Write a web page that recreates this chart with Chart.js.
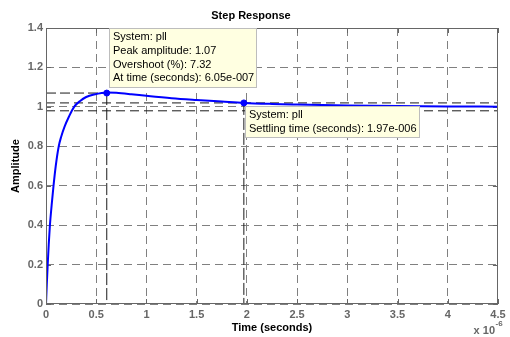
<!DOCTYPE html>
<html>
<head>
<meta charset="utf-8">
<script src="https://cdn.jsdelivr.net/npm/chart.js@4/dist/chart.umd.min.js"></script>
<style>
  html, body { margin: 0; padding: 0; background: #ffffff; }
  #wrap { width: 510px; height: 337px; position: relative; }
</style>
</head>
<body>
<div id="wrap"><canvas id="c" width="510" height="337"></canvas></div>
<script>
// ---- data (time in units of 1e-6 s) ----
const timeUs = [0, 0.008, 0.017, 0.027, 0.039, 0.056, 0.075, 0.097, 0.127, 0.152, 0.185, 0.228, 0.28, 0.34, 0.4, 0.48, 0.605, 0.7, 0.85, 1.0, 1.25, 1.5, 1.75, 1.97, 2.25, 2.5, 3.0, 3.5, 4.0, 4.5];
const amplitude = [0, 0.1, 0.2, 0.3, 0.4, 0.5, 0.6, 0.7, 0.8, 0.85, 0.9, 0.95, 1.0, 1.03, 1.05, 1.063, 1.0732, 1.071, 1.064, 1.056, 1.044, 1.035, 1.027, 1.02, 1.015, 1.012, 1.007, 1.004, 1.002, 1.001];
const peakTime = 0.605;
const peakAmp = 1.07;
const settleTime = 1.97;
const settleBand = [0.98, 1.02];
const xTickLabels = ['0', '0.5', '1', '1.5', '2', '2.5', '3', '3.5', '4', '4.5'];
const yTickLabels = ['0', '0.2', '0.4', '0.6', '0.8', '1', '1.2', '1.4'];
const peakTipLines = ['System: pll', 'Peak amplitude: 1.07', 'Overshoot (%): 7.32', 'At time (seconds): 6.05e-007'];
const settleTipLines = ['System: pll', 'Settling time (seconds): 1.97e-006'];

const FONT = "'Liberation Sans', Arial, Helvetica, sans-serif";
const xMin = 0, xMax = 4.5;

const curve = timeUs.map((t, i) => ({ x: t, y: amplitude[i] }));

const refStyle = { borderColor: '#1a1a1a', borderWidth: 1, pointRadius: 0, fill: false, showLine: true };

const framePlugin = {
  id: 'frame',
  beforeDatasetsDraw(chart) {
    const { ctx, chartArea: a } = chart;
    ctx.save();
    ctx.strokeStyle = '#666';
    ctx.lineWidth = 1;
    const xs = chart.scales.x, ys = chart.scales.y;
    ctx.beginPath();
    xs.ticks.forEach(t => {
      const px = Math.round(xs.getPixelForValue(t.value)) + 0.5;
      ctx.moveTo(px, a.bottom); ctx.lineTo(px, a.bottom - 5);
      ctx.moveTo(px, a.top); ctx.lineTo(px, a.top + 5);
    });
    ys.ticks.forEach(t => {
      const py = Math.round(ys.getPixelForValue(t.value)) + 0.5;
      ctx.moveTo(a.left, py); ctx.lineTo(a.left + 5, py);
      ctx.moveTo(a.right, py); ctx.lineTo(a.right - 5, py);
    });
    ctx.stroke();
    ctx.restore();
  },
  afterDatasetsDraw(chart) {
    const { ctx, chartArea: a } = chart;
    const xs = chart.scales.x, ys = chart.scales.y;
    ctx.save();
    ctx.strokeStyle = '#666';
    ctx.lineWidth = 1;
    ctx.strokeRect(Math.round(a.left) + 0.5, Math.round(a.top) + 0.5, Math.round(a.right - a.left) - 1, Math.round(a.bottom - a.top) - 1);

    const lh = 13.7;
    function tip(lines, left, top) {
      ctx.font = '11px ' + FONT;
      let w = 0;
      lines.forEach(l => { w = Math.max(w, ctx.measureText(l).width); });
      const bw = Math.round(w + 7), bh = Math.round(lines.length * lh + 5);
      ctx.fillStyle = '#ffffe1';
      ctx.fillRect(left, top, bw, bh);
      ctx.strokeStyle = '#bdbdbd';
      ctx.strokeRect(left + 0.5, top + 0.5, bw - 1, bh - 1);
      ctx.fillStyle = '#000';
      ctx.textBaseline = 'middle';
      ctx.textAlign = 'left';
      lines.forEach((l, i) => ctx.fillText(l, left + 4, top + 2.5 + lh * (i + 0.5)));
    }
    tip(peakTipLines, Math.round(xs.getPixelForValue(peakTime)) + 2, Math.round(a.top));
    tip(settleTipLines, Math.round(xs.getPixelForValue(settleTime)) + 1, Math.round(ys.getPixelForValue(settleBand[1])) + 3);

    ctx.fillStyle = '#666';
    ctx.textBaseline = 'middle';
    ctx.textAlign = 'right';
    ctx.font = 'bold 11px ' + FONT;
    ctx.fillText('x 10', 495, 331);
    ctx.textAlign = 'left';
    ctx.font = 'bold 8px ' + FONT;
    ctx.fillText('-6', 495.5, 323.5);
    ctx.restore();
  }
};

new Chart(document.getElementById('c'), {
  type: 'line',
  data: {
    datasets: [
      { label: 'pll', data: curve, borderColor: '#0000ff', borderWidth: 2, pointRadius: 0, fill: false, cubicInterpolationMode: 'monotone' },
      { label: 'peak', data: [{ x: peakTime, y: peakAmp }], showLine: false, pointRadius: 3, pointBackgroundColor: '#0000ff', pointBorderColor: '#0000ff' },
      { label: 'settle', data: [{ x: settleTime, y: settleBand[1] }], showLine: false, pointRadius: 3, pointBackgroundColor: '#0000ff', pointBorderColor: '#0000ff' },
      Object.assign({ label: 'peakH', data: [{ x: xMin, y: peakAmp }, { x: peakTime, y: peakAmp }], borderDash: [10, 4] }, refStyle),
      Object.assign({ label: 'peakV', data: [{ x: peakTime, y: peakAmp }, { x: peakTime, y: 0 }], borderDash: [12, 3] }, refStyle),
      Object.assign({ label: 'settleHi', data: [{ x: xMin, y: settleBand[1] }, { x: xMax, y: settleBand[1] }], borderDash: [9, 5] }, refStyle),
      Object.assign({ label: 'settleLo', data: [{ x: xMin, y: settleBand[0] }, { x: xMax, y: settleBand[0] }], borderDash: [9, 5] }, refStyle),
      Object.assign({ label: 'settleV', data: [{ x: settleTime, y: settleBand[1] }, { x: settleTime, y: 0 }], borderDash: [12, 3] }, refStyle)
    ]
  },
  options: {
    responsive: false,
    animation: false,
    devicePixelRatio: 1,
    layout: { padding: { left: 0, right: 8, top: 0, bottom: 0 } },
    plugins: {
      legend: { display: false },
      tooltip: { enabled: false },
      title: {
        display: true,
        text: 'Step Response',
        color: '#000',
        font: { family: FONT, size: 11, weight: 'bold' },
        padding: { top: 9.5, bottom: 5.3 }
      }
    },
    scales: {
      x: {
        type: 'linear',
        min: xMin, max: xMax,
        afterFit(scale) { scale.height = 33; },
        ticks: {
          stepSize: 0.5,
          padding: 4.4,
          color: '#666',
          maxRotation: 0,
          autoSkip: false,
          font: { family: FONT, size: 11, weight: 'bold' },
          callback: (v, i) => xTickLabels[i]
        },
        grid: { color: '#808080', lineWidth: 1, drawTicks: false },
        border: { display: false, dash: [8, 5] },
        title: {
          display: true,
          text: 'Time (seconds)',
          color: '#000',
          font: { family: FONT, size: 11, weight: 'bold' },
          padding: { top: 0, bottom: 2.4 }
        }
      },
      y: {
        type: 'linear',
        min: 0, max: 1.4,
        afterFit(scale) { scale.width = 46; },
        ticks: {
          stepSize: 0.2,
          padding: 3,
          color: '#666',
          autoSkip: false,
          font: { family: FONT, size: 11, weight: 'bold' },
          callback: (v, i) => yTickLabels[i]
        },
        grid: { color: '#808080', lineWidth: 1, drawTicks: false },
        border: { display: false, dash: [8, 5] },
        title: {
          display: true,
          text: 'Amplitude',
          color: '#000',
          font: { family: FONT, size: 11, weight: 'bold' },
          padding: { top: 9.4, bottom: 0 }
        }
      }
    }
  },
  plugins: [framePlugin]
});
</script>
</body>
</html>
